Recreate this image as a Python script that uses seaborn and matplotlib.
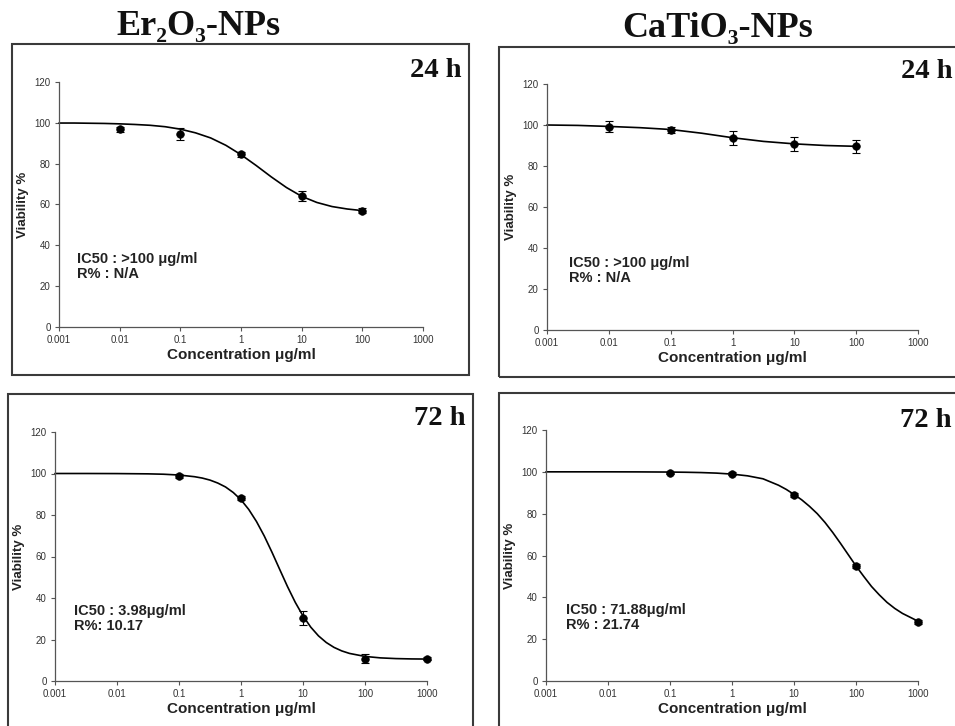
"""
Curve di vitalita' cellulare (dose-risposta) per Er2O3-NPs e CaTiO3-NPs
a 24 h e 72 h, con punti medi, barre di errore e curva di fit.
"""

import numpy as np
import pandas as pd
import matplotlib
matplotlib.use("Agg")
import matplotlib.pyplot as plt
from matplotlib.patches import Rectangle
from matplotlib.ticker import NullLocator
import seaborn as sns

# Concentrazioni testate (ug/ml)
CONC_24 = [0.01, 0.1, 1, 10, 100]
CONC_72 = [0.1, 1, 10, 100, 1000]

# Er2O3 - 24 h
ER_24_MEAN = [96.8, 94.4, 84.7, 64.2, 57.0]
ER_24_ERR = [1.2, 3.0, 1.2, 2.5, 1.2]
ER_24_CURVE_LOGX = [-3, -2.75, -2.5, -2.25, -2, -1.75, -1.5, -1.25, -1, -0.75, -0.5,
                    -0.25, 0, 0.25, 0.5, 0.75, 1, 1.25, 1.5, 1.75, 2]
ER_24_CURVE_Y = [99.9, 99.9, 99.8, 99.7, 99.5, 99.2, 98.8, 98.1, 96.9, 95.1, 92.6,
                 89.0, 84.4, 79.1, 73.5, 68.3, 64.0, 61.0, 59.0, 57.8, 57.0]

# CaTiO3 - 24 h
CA_24_MEAN = [99.2, 97.7, 93.7, 90.7, 89.6]
CA_24_ERR = [2.8, 1.5, 3.3, 3.6, 3.2]
CA_24_CURVE_LOGX = [-3, -2.5, -2, -1.5, -1, -0.5, 0, 0.5, 1, 1.5, 2]
CA_24_CURVE_Y = [100.0, 99.8, 99.3, 98.7, 97.8, 96.0, 93.8, 92.0, 90.8, 90.0, 89.6]

# Er2O3 - 72 h
ER_72_MEAN = [98.8, 88.3, 30.4, 10.8, 10.8]
ER_72_ERR = [1.0, 1.0, 3.3, 2.3, 0.6]
ER_72_CURVE_LOGX = [-3, -2.5, -2, -1.5, -1.25, -1, -0.75, -0.625, -0.5, -0.375, -0.25,
                    -0.125, 0, 0.125, 0.25, 0.375, 0.5, 0.625, 0.75, 0.875, 1, 1.125,
                    1.25, 1.375, 1.5, 1.625, 1.75, 2, 2.25, 2.5, 2.75, 3]
ER_72_CURVE_Y = [100.0, 100.0, 99.96, 99.83, 99.65, 99.26, 98.46, 97.8, 96.82, 95.4,
                 93.52, 90.84, 87.32, 82.67, 76.84, 69.89, 62.03, 53.72, 45.50, 37.92,
                 31.36, 25.96, 21.74, 18.56, 16.20, 14.50, 13.29, 11.84, 11.14, 10.80,
                 10.64, 10.57]

# CaTiO3 - 72 h
CA_72_MEAN = [99.4, 99.1, 88.9, 55.0, 28.2]
CA_72_ERR = [0.6, 0.6, 1.0, 1.0, 1.0]
CA_72_CURVE_LOGX = [-3, -2.5, -2, -1.5, -1, -0.75, -0.5, -0.25, 0, 0.25, 0.5, 0.75,
                    0.875, 1, 1.125, 1.25, 1.375, 1.5, 1.625, 1.75, 1.875, 2, 2.125,
                    2.25, 2.375, 2.5, 2.625, 2.75, 3]
CA_72_CURVE_Y = [100.0, 100.0, 100.0, 99.97, 99.89, 99.80, 99.65, 99.39, 98.91, 98.09,
                 96.67, 93.6, 91.6, 89.2, 86.6, 83.5, 80.0, 75.8, 71.0, 65.8, 60.4,
                 55.0, 50.0, 45.2, 41.2, 37.6, 34.7, 32.3, 28.6]

X_TICKS = [0.001, 0.01, 0.1, 1, 10, 100, 1000]
X_TICK_LABELS = ["0.001", "0.01", "0.1", "1", "10", "100", "1000"]
Y_TICKS = [0, 20, 40, 60, 80, 100, 120]

TITLES = ["Er\u2082O\u2083-NPs", "CaTiO\u2083-NPs"]
TIME_LABELS = ["24 h", "72 h"]
IC50_TEXT = {
    "er24": "IC50 : >100 \u03bcg/ml\nR% : N/A",
    "ca24": "IC50 : >100 \u03bcg/ml\nR% : N/A",
    "er72": "IC50 : 3.98\u03bcg/ml\nR%: 10.17",
    "ca72": "IC50 : 71.88\u03bcg/ml\nR% : 21.74",
}

W, H = 955, 726
SANS = ["Liberation Sans", "DejaVu Sans"]
SERIF = ["Liberation Serif", "DejaVu Serif"]


def fx(px):
    return px / W


def fy(py):
    return 1 - py / H


def draw_panel(ax, curve_logx, curve_y, conc, mean, err, note, note_pos):
    """Disegna curva di fit, punti medi e barre di errore."""
    ax.set_xscale("log")
    curve = pd.DataFrame({"conc": np.power(10.0, curve_logx), "viab": curve_y})
    sns.lineplot(data=curve, x="conc", y="viab", ax=ax, color="black", lw=1.2,
                 sort=False, clip_on=False)
    pts = pd.DataFrame({"conc": conc, "viab": mean})
    ax.errorbar(conc, mean, yerr=err, fmt="none", ecolor="black", elinewidth=0.8,
                capsize=3, capthick=0.8, zorder=3, clip_on=False)
    sns.scatterplot(data=pts, x="conc", y="viab", ax=ax, color="black", s=30,
                    edgecolor="black", linewidth=0.5, zorder=4, clip_on=False)

    ax.set_xlim(0.001, 1000)
    ax.set_ylim(0, 120)
    ax.set_xticks(X_TICKS)
    ax.set_xticklabels(X_TICK_LABELS)
    ax.xaxis.set_minor_locator(NullLocator())
    ax.set_yticks(Y_TICKS)
    ax.tick_params(direction="out", length=3, width=0.8, color="#555555",
                   labelsize=7, labelcolor="#333333", pad=3)
    for lab in ax.get_xticklabels() + ax.get_yticklabels():
        lab.set_family(SANS)
    for side in ["top", "right"]:
        ax.spines[side].set_visible(False)
    for side in ["left", "bottom"]:
        ax.spines[side].set_color("#555555")
        ax.spines[side].set_linewidth(0.9)

    ax.set_xlabel("Concentration \u03bcg/ml", fontsize=11, fontweight="bold",
                  family=SANS, color="#222222", labelpad=2)
    ax.set_ylabel("Viability %", fontsize=9.5, fontweight="bold",
                  family=SANS, color="#222222", labelpad=4)
    ax.text(note_pos[0], note_pos[1], note, transform=ax.transAxes, ha="left",
            va="top", fontsize=10.5, fontweight="bold", family=SANS,
            color="#222222", linespacing=1.1)


sns.set_style("ticks")
plt.rcParams["font.family"] = SANS

fig = plt.figure(figsize=(W / 100, H / 100), dpi=100)
fig.patch.set_facecolor("white")

# Riquadri dei pannelli (i due a destra sono tagliati dal bordo)
boxes = [(12, 44, 469, 375), (499, 47, 965, 377), (8, 394, 473, 735), (499, 393, 965, 735)]
for x0, y0, x1, y1 in boxes:
    fig.add_artist(Rectangle((fx(x0), fy(y1)), fx(x1 - x0), (y1 - y0) / H,
                             transform=fig.transFigure, fill=False,
                             edgecolor="#3a3a3a", lw=1.5, clip_on=False))

panels = [
    ((59, 82, 423, 327), ER_24_CURVE_LOGX, ER_24_CURVE_Y, CONC_24, ER_24_MEAN, ER_24_ERR,
     IC50_TEXT["er24"], (0.05, 0.305)),
    ((547, 84, 918, 330), CA_24_CURVE_LOGX, CA_24_CURVE_Y, CONC_24, CA_24_MEAN, CA_24_ERR,
     IC50_TEXT["ca24"], (0.058, 0.30)),
    ((55, 432, 427, 681), ER_72_CURVE_LOGX, ER_72_CURVE_Y, CONC_72, ER_72_MEAN, ER_72_ERR,
     IC50_TEXT["er72"], (0.052, 0.31)),
    ((546, 430, 918, 681), CA_72_CURVE_LOGX, CA_72_CURVE_Y, CONC_72, CA_72_MEAN, CA_72_ERR,
     IC50_TEXT["ca72"], (0.055, 0.312)),
]
for (x0, y0, x1, y1), clx, cly, conc, mean, err, note, pos in panels:
    ax = fig.add_axes([fx(x0), fy(y1), (x1 - x0) / W, (y1 - y0) / H])
    draw_panel(ax, clx, cly, conc, mean, err, note, pos)

# Titoli delle colonne
fig.text(fx(198), fy(35), TITLES[0], ha="center", va="baseline", fontsize=26,
         fontweight="bold", family=SERIF, color="#111111")
fig.text(fx(718), fy(37), TITLES[1], ha="center", va="baseline", fontsize=26,
         fontweight="bold", family=SERIF, color="#111111")

# Etichette dei tempi
fig.text(fx(461), fy(77), TIME_LABELS[0], ha="right", va="baseline", fontsize=20.5,
         fontweight="bold", family=SERIF, color="#111111")
fig.text(fx(901), fy(78), TIME_LABELS[0], ha="left", va="baseline", fontsize=20.5,
         fontweight="bold", family=SERIF, color="#111111")
fig.text(fx(465), fy(425), TIME_LABELS[1], ha="right", va="baseline", fontsize=20.5,
         fontweight="bold", family=SERIF, color="#111111")
fig.text(fx(900), fy(427), TIME_LABELS[1], ha="left", va="baseline", fontsize=20.5,
         fontweight="bold", family=SERIF, color="#111111")

fig.savefig("out.png", dpi=100)
